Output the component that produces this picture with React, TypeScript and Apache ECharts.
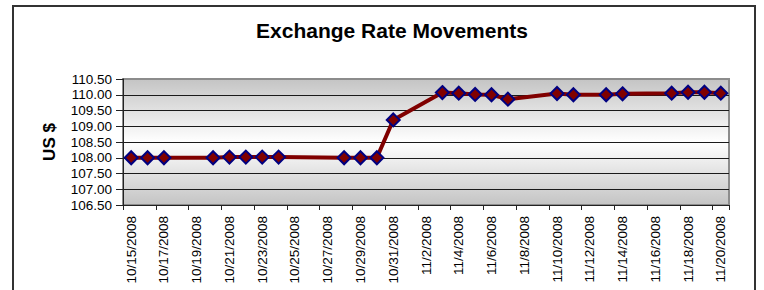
import React, { useEffect, useRef } from 'react';
import * as echarts from 'echarts';

const categories: string[] = [
  '10/15/2008', '10/16/2008', '10/17/2008', '10/18/2008', '10/19/2008', '10/20/2008',
  '10/21/2008', '10/22/2008', '10/23/2008', '10/24/2008', '10/25/2008', '10/26/2008',
  '10/27/2008', '10/28/2008', '10/29/2008', '10/30/2008', '10/31/2008', '11/1/2008',
  '11/2/2008', '11/3/2008', '11/4/2008', '11/5/2008', '11/6/2008', '11/7/2008',
  '11/8/2008', '11/9/2008', '11/10/2008', '11/11/2008', '11/12/2008', '11/13/2008',
  '11/14/2008', '11/15/2008', '11/16/2008', '11/17/2008', '11/18/2008', '11/19/2008',
  '11/20/2008',
];

const rates: (number | null)[] = [
  108.0, 108.0, 108.0, null, null, 108.0,
  108.02, 108.02, 108.02, 108.02, null, null,
  null, 108.0, 108.0, 108.0, 109.2, null,
  null, 110.07, 110.05, 110.01, 110.0, 109.86,
  null, null, 110.04, 110.0, null, 110.0,
  110.03, null, null, 110.05, 110.08, 110.08,
  110.05,
];

const yMin = 106.5;
const yMax = 110.5;
const yStep = 0.5;

const FONT = 'Liberation Sans, Arial, Helvetica, sans-serif';

export default function App() {
  const ref = useRef<HTMLDivElement>(null);
  useEffect(() => {
    if (!ref.current) return;
    const chart = echarts.init(ref.current, undefined, { renderer: 'svg' });
    chart.setOption({
      animation: false,
      backgroundColor: '#ffffff',
      title: {
        text: 'Exchange Rate Movements',
        left: 387,
        top: 15,
        textAlign: 'center',
        textStyle: { fontFamily: FONT, fontSize: 21, fontWeight: 'bold', color: '#000' },
      },
      graphic: [
        {
          type: 'rect',
          shape: { x: 13, y: 6, width: 742, height: 310 },
          style: { fill: 'none', stroke: '#333333', lineWidth: 2 },
          silent: true,
        },
      ],
      grid: {
        left: 123,
        right: 35,
        top: 79,
        bottom: 85,
        show: true,
        borderColor: '#8c8c8c',
        borderWidth: 2,
        backgroundColor: {
          type: 'linear',
          x: 0, y: 0, x2: 0, y2: 1,
          colorStops: [
            { offset: 0, color: '#c4c4c4' },
            { offset: 0.5, color: '#ffffff' },
            { offset: 1, color: '#c4c4c4' },
          ],
        },
      },
      xAxis: {
        type: 'category',
        data: categories,
        boundaryGap: true,
        axisLine: { show: true, lineStyle: { color: '#222', width: 1 } },
        axisTick: { show: true, interval: 1, alignWithLabel: false, length: 5, lineStyle: { color: '#222' } },
        axisLabel: {
          interval: 1,
          rotate: 90,
          margin: 11,
          padding: [0, 0, 5, 0],
          fontFamily: FONT,
          fontSize: 13.5,
          color: '#000',
        },
        splitLine: { show: false },
      },
      yAxis: {
        type: 'value',
        min: yMin,
        max: yMax,
        interval: yStep,
        name: 'US $',
        nameLocation: 'middle',
        nameGap: 65,
        nameTextStyle: { fontFamily: FONT, fontSize: 17, fontWeight: 'bold', color: '#000' },
        axisLine: { show: true, lineStyle: { color: '#222', width: 1 } },
        axisTick: { show: true, length: 7, lineStyle: { color: '#222' } },
        axisLabel: {
          margin: 11,
          fontFamily: FONT,
          fontSize: 13.5,
          color: '#000',
          formatter: (v: number) => v.toFixed(2),
        },
        splitLine: { show: true, showMaxLine: false, lineStyle: { color: '#1a1a1a', width: 1 } },
      },
      series: [
        {
          type: 'line',
          data: rates,
          connectNulls: true,
          showAllSymbol: true,
          symbol: 'diamond',
          symbolSize: 13,
          lineStyle: { color: '#800000', width: 4 },
          itemStyle: { color: '#800000', borderColor: '#000080', borderWidth: 2 },
        },
      ],
    });
    return () => chart.dispose();
  }, []);
  return (
    <div
      ref={ref}
      style={{ position: 'fixed', left: 0, top: 0, width: 764, height: 290 }}
    />
  );
}
